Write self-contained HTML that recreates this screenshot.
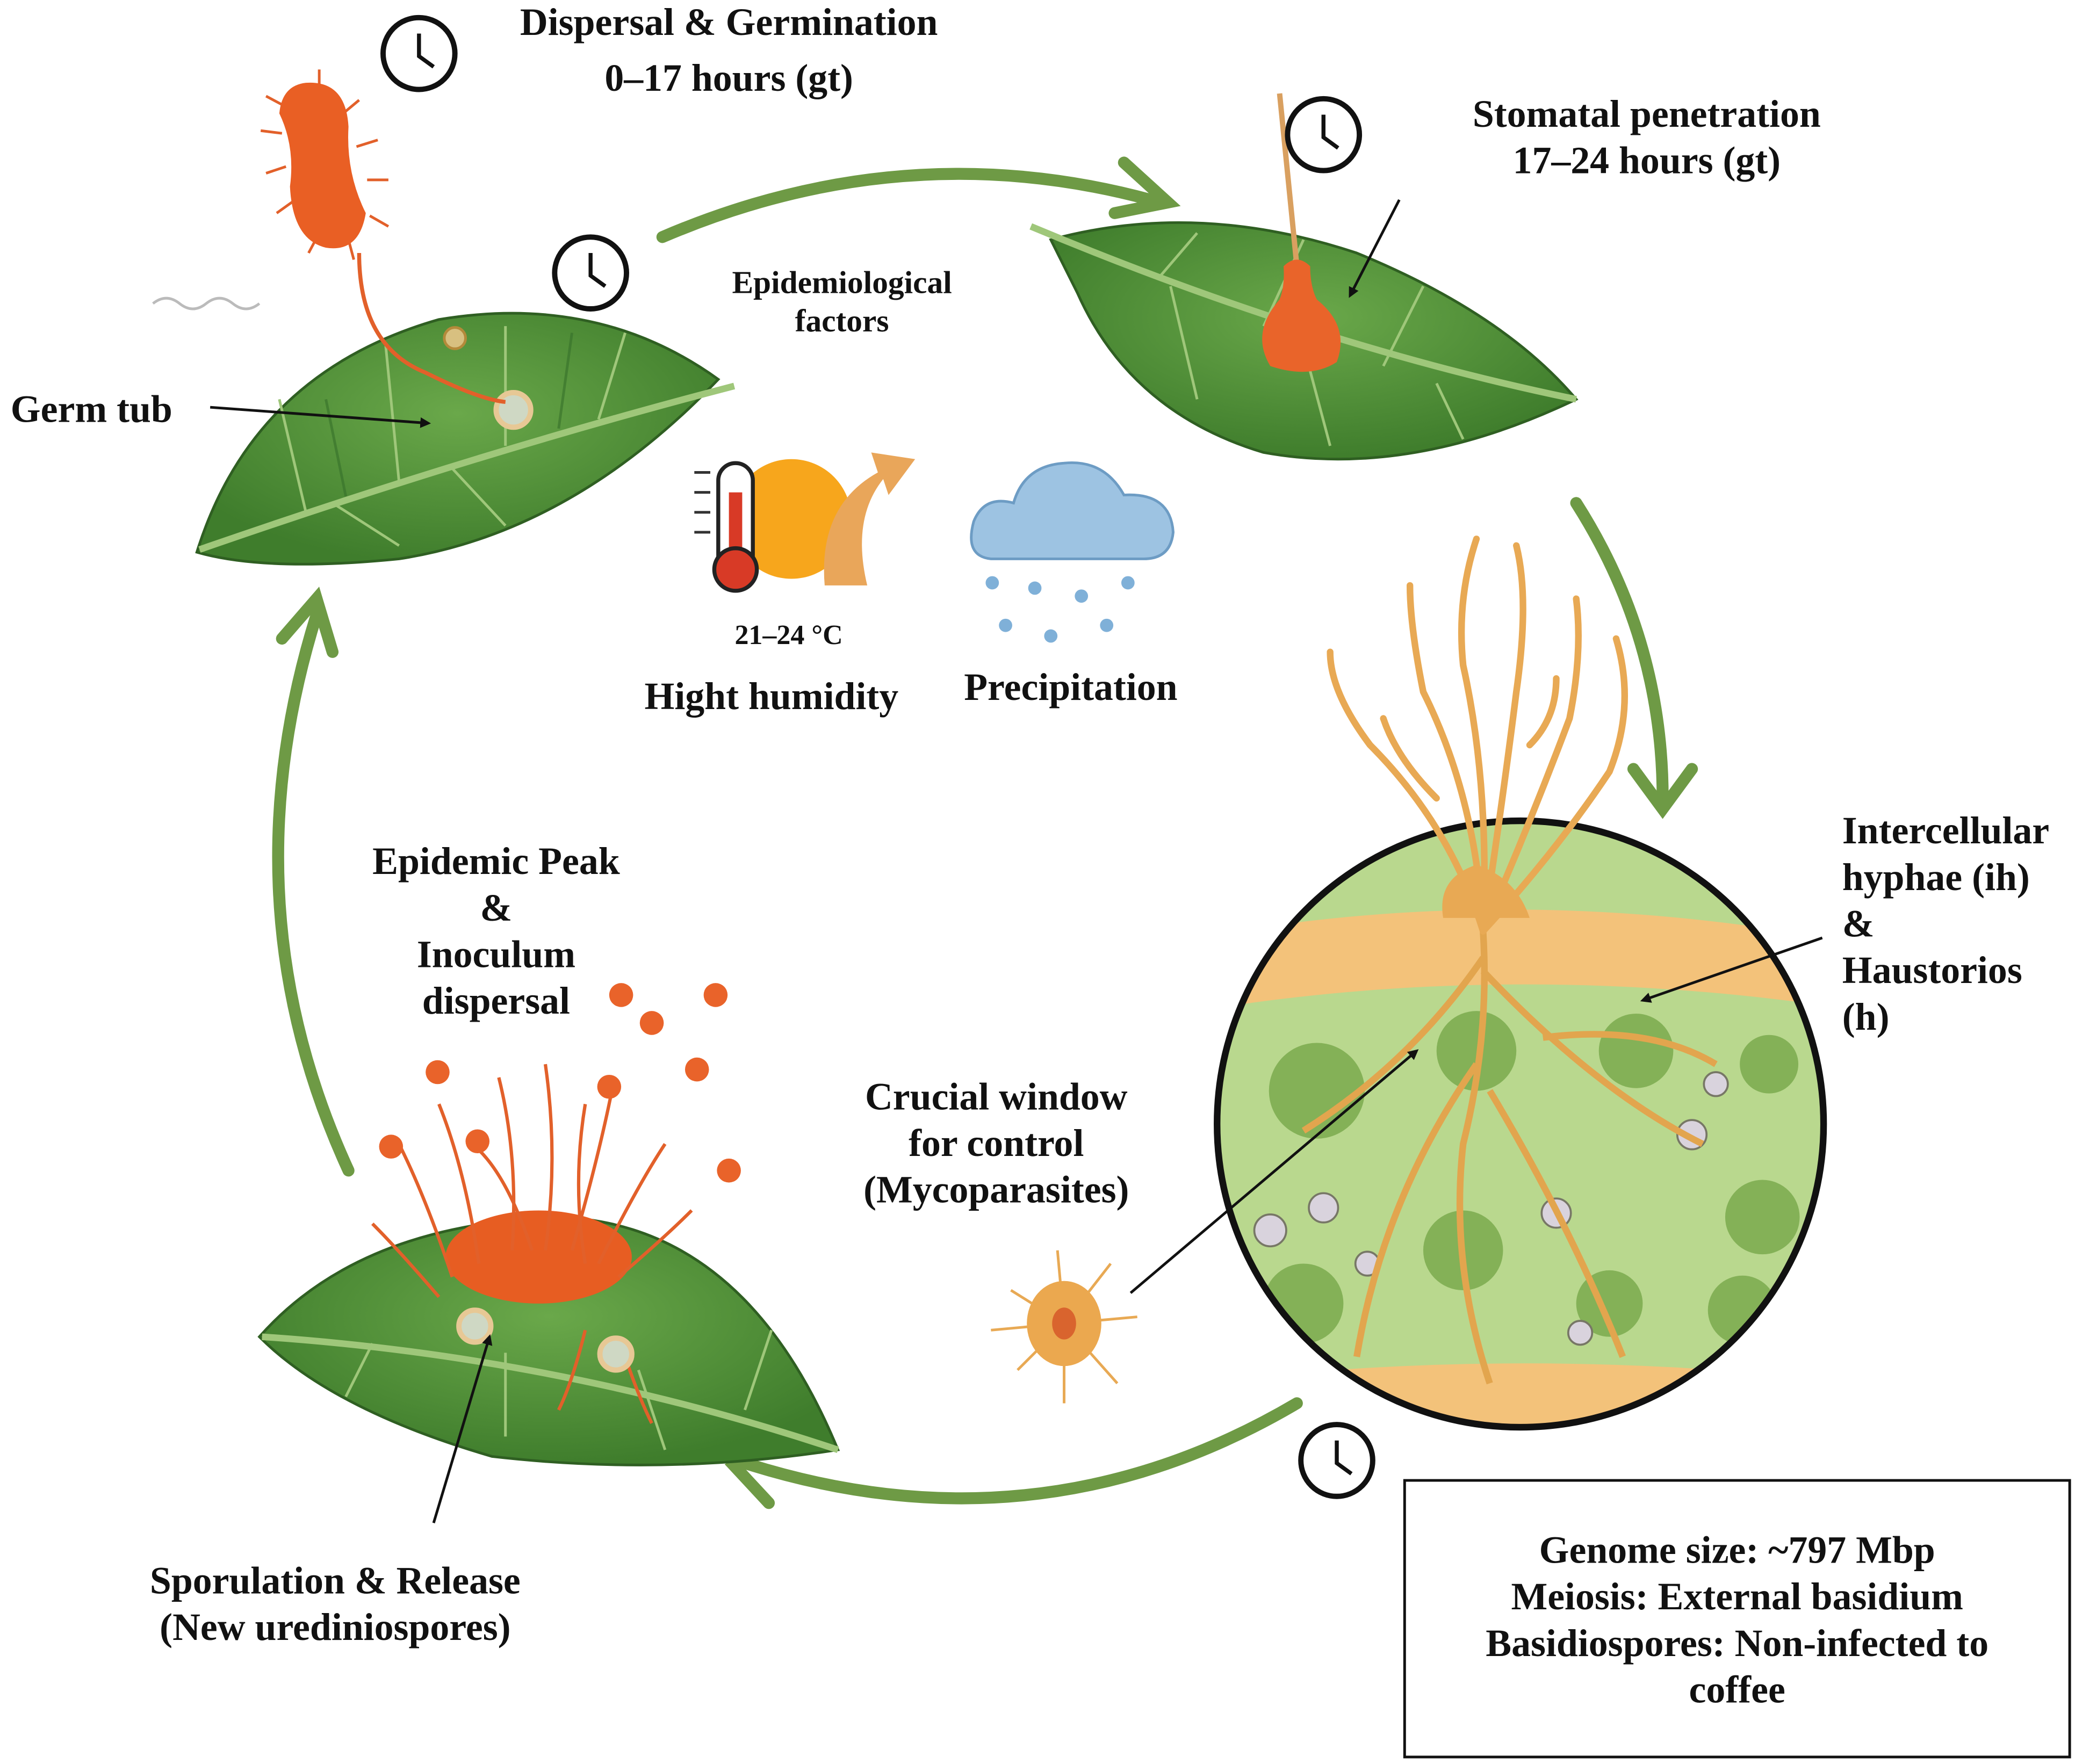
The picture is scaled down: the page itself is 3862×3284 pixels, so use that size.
<!DOCTYPE html>
<html><head><meta charset="utf-8"><style>
html,body{margin:0;padding:0;background:#fff;}
svg{display:block}
text{font-family:"Liberation Serif",serif;font-weight:bold;fill:#111;}
</style></head><body>
<svg width="3862" height="3284" viewBox="0 0 1560 1326" xmlns="http://www.w3.org/2000/svg">
<defs>
<marker id="ah" markerWidth="8" markerHeight="8" refX="6" refY="4" orient="auto" markerUnits="userSpaceOnUse"><path d="M0,0 L8,4 L0,8 z" fill="#111"/></marker>
<radialGradient id="leafg" cx="50%" cy="40%" r="60%"><stop offset="0" stop-color="#6aa84a"/><stop offset="1" stop-color="#3f7d2c"/></radialGradient>
<clipPath id="cc"><circle cx="1143" cy="845" r="228"/></clipPath>
</defs>
<rect width="1560" height="1326" fill="#fff"/>

<g fill="none" stroke="#6e9a45" stroke-width="9" stroke-linecap="round">
<path d="M498,178 Q680,100 865,150"/>
<path d="M845,122 L878,152 L838,160"/>
<path d="M1185,378 Q1250,480 1250,600"/>
<path d="M1228,578 L1250,608 L1272,578"/>
<path d="M975,1055 Q780,1170 560,1100"/>
<path d="M588,1082 L552,1102 L578,1130"/>
<path d="M262,880 Q170,680 238,462"/>
<path d="M212,480 L238,450 L250,490"/>
</g>

<path d="M148,415 Q190,280 330,240 Q450,220 540,285 Q430,400 300,420 Q200,430 148,415 z" fill="url(#leafg)" stroke="#2f5f22" stroke-width="2"/>
<path d="M150,413 Q360,340 552,290" fill="none" stroke="#9fc77a" stroke-width="5"/>
<g stroke="#9fc77a" stroke-width="2" fill="none"><path d="M230,385 L210,300"/><path d="M300,362 L290,260"/><path d="M380,335 L380,245"/><path d="M450,315 L470,250"/><path d="M250,378 L300,410"/><path d="M340,352 L380,395"/></g>
<g stroke="#35702a" stroke-width="2" fill="none" opacity="0.6"><path d="M260,373 L245,300"/><path d="M420,322 L430,250"/></g>
<circle cx="386" cy="308" r="13" fill="#cfd8c4" stroke="#e7c895" stroke-width="4"/>
<circle cx="342" cy="254" r="8" fill="#d8c080" stroke="#b48a3a" stroke-width="2"/>
<path d="M270,190 Q270,260 320,280 Q360,300 380,302" fill="none" stroke="#e2602a" stroke-width="3"/>
<g stroke="#e2602a" stroke-width="2"><path d="M215,80 L200,72 M212,100 L196,98 M215,125 L200,130 M222,150 L208,160 M240,175 L232,190 M262,180 L266,195 M278,162 L292,170 M276,135 L292,135 M268,110 L284,105 M258,85 L270,75 M240,65 L240,52"/></g>
<path d="M230,62 Q260,60 262,95 Q260,130 275,160 Q270,190 245,186 Q220,180 218,140 Q222,110 210,85 Q212,64 230,62 z" fill="#e95f24"/>
<path d="M115,228 q10,-8 20,0 t20,0 t20,0 t20,0" fill="none" stroke="#bbb" stroke-width="2"/>

<path d="M790,180 Q900,150 1020,190 Q1130,235 1185,300 Q1060,360 950,340 Q850,310 810,220 z" fill="url(#leafg)" stroke="#2f5f22" stroke-width="2"/>
<path d="M775,170 Q990,260 1185,300" fill="none" stroke="#9fc77a" stroke-width="5"/>
<g stroke="#9fc77a" stroke-width="2" fill="none"><path d="M870,210 L900,175"/><path d="M950,245 L980,180"/><path d="M1040,275 L1070,215"/><path d="M880,215 L900,300"/><path d="M980,260 L1000,335"/><path d="M1080,288 L1100,330"/></g>
<path d="M962,70 L975,200" stroke="#d9a060" stroke-width="4"/>
<path d="M965,200 Q975,190 985,200 Q985,215 990,225 Q1015,245 1005,272 Q985,285 955,275 Q940,250 962,225 Q966,215 965,200 z" fill="#e9642a"/>
<path d="M1052,150 L1015,222" stroke="#111" stroke-width="2" marker-end="url(#ah)"/>

<g fill="#fff" stroke="#111" stroke-width="4">
<circle cx="315" cy="40" r="27"/><circle cx="444" cy="205" r="27"/><circle cx="995" cy="101" r="27"/><circle cx="1005" cy="1098" r="27"/>
</g>
<g stroke="#111" stroke-width="3" fill="none">
<path d="M315,25 L315,42 L326,50"/><path d="M444,190 L444,207 L455,215"/><path d="M995,86 L995,103 L1006,111"/><path d="M1005,1083 L1005,1100 L1016,1108"/>
</g>

<circle cx="595" cy="390" r="45" fill="#f7a61c"/>
<path d="M620,440 Q615,380 660,355 L655,340 L688,345 L668,372 L664,360 Q640,390 652,440 z" fill="#e9a65a"/>
<rect x="540" y="348" width="26" height="85" rx="13" fill="#fff" stroke="#222" stroke-width="3"/>
<rect x="548" y="370" width="10" height="55" fill="#d83a26"/>
<circle cx="553" cy="428" r="16" fill="#d83a26" stroke="#222" stroke-width="3"/>
<g stroke="#333" stroke-width="2"><path d="M522,355 L534,355 M522,370 L534,370 M522,385 L534,385 M522,400 L534,400"/></g>
<path d="M745,420 Q725,418 732,392 Q740,372 762,378 Q770,350 800,348 Q830,345 845,372 Q880,370 882,400 Q880,420 860,420 z" fill="#9dc3e2" stroke="#6d9cc4" stroke-width="2"/>
<g fill="#7fb0d8"><circle cx="746" cy="438" r="5"/><circle cx="778" cy="442" r="5"/><circle cx="813" cy="448" r="5"/><circle cx="848" cy="438" r="5"/><circle cx="756" cy="470" r="5"/><circle cx="790" cy="478" r="5"/><circle cx="832" cy="470" r="5"/></g>

<g clip-path="url(#cc)">
<rect x="900" y="600" width="500" height="500" fill="#b9d88e"/>
<path d="M900,705 Q1143,660 1400,710 L1400,760 Q1143,720 900,760 z" fill="#f3c27a"/>
<path d="M900,1040 Q1143,1010 1400,1040 L1400,1100 L900,1100 z" fill="#f3c27a"/>
<g fill="#77a84a" opacity="0.8"><circle cx="990" cy="820" r="36"/><circle cx="1110" cy="790" r="30"/><circle cx="1230" cy="790" r="28"/><circle cx="1330" cy="800" r="22"/><circle cx="1100" cy="940" r="30"/><circle cx="1325" cy="915" r="28"/><circle cx="980" cy="980" r="30"/><circle cx="1210" cy="980" r="25"/><circle cx="1310" cy="985" r="26"/></g>
<g fill="#d9d3dd" stroke="#776" stroke-width="1.5"><circle cx="995" cy="908" r="11"/><circle cx="955" cy="925" r="12"/><circle cx="1170" cy="912" r="11"/><circle cx="1272" cy="853" r="11"/><circle cx="1290" cy="815" r="9"/><circle cx="1028" cy="950" r="9"/><circle cx="1188" cy="1002" r="9"/></g>
<g fill="none" stroke="#e2a54e" stroke-width="5"><path d="M1115,700 Q1120,780 1100,860 Q1090,950 1120,1040"/><path d="M1115,720 Q1060,800 980,850"/><path d="M1115,730 Q1200,820 1280,860"/><path d="M1110,800 Q1040,900 1020,1020"/><path d="M1120,820 Q1180,920 1220,1020"/><path d="M1160,780 Q1240,770 1290,800"/></g>
</g>
<circle cx="1143" cy="845" r="228" fill="none" stroke="#111" stroke-width="5"/>
<g fill="none" stroke="#e8a954" stroke-width="5" stroke-linecap="round">
<path d="M1115,700 Q1090,620 1030,560 Q1000,520 1000,490"/>
<path d="M1115,700 Q1110,600 1070,520 Q1060,470 1060,440"/>
<path d="M1115,700 Q1120,590 1100,500 Q1095,450 1110,405"/>
<path d="M1115,700 Q1130,600 1140,520 Q1150,450 1140,410"/>
<path d="M1115,700 Q1150,620 1180,540 Q1190,490 1185,450"/>
<path d="M1115,700 Q1170,640 1210,580 Q1230,530 1215,480"/>
<path d="M1080,600 Q1050,570 1040,540"/><path d="M1150,560 Q1170,540 1170,510"/>
</g>
<path d="M1085,690 Q1080,660 1110,650 Q1140,660 1150,690 z" fill="#e8a954"/>
<path d="M1370,705 L1235,752" stroke="#111" stroke-width="2" marker-end="url(#ah)"/>
<path d="M850,972 L1065,790" stroke="#111" stroke-width="2" marker-end="url(#ah)"/>

<g stroke="#e8a954" stroke-width="2" fill="none"><path d="M800,995 L760,970 M800,995 L745,1000 M800,995 L765,1030 M800,995 L800,1055 M800,995 L840,1040 M800,995 L855,990 M800,995 L835,950 M800,995 L795,940"/></g>
<ellipse cx="800" cy="995" rx="28" ry="32" fill="#eba84f"/>
<ellipse cx="800" cy="995" rx="9" ry="12" fill="#d9642e"/>

<path d="M195,1005 Q270,920 420,915 Q560,920 630,1090 Q500,1110 370,1095 Q250,1060 195,1005 z" fill="url(#leafg)" stroke="#2f5f22" stroke-width="2"/>
<path d="M197,1005 Q420,1020 630,1090" fill="none" stroke="#9fc77a" stroke-width="5"/>
<g stroke="#9fc77a" stroke-width="2" fill="none"><path d="M280,1010 L260,1050"/><path d="M380,1017 L380,1080"/><path d="M480,1030 L500,1090"/><path d="M560,1060 L580,1000"/></g>
<ellipse cx="405" cy="945" rx="70" ry="35" fill="#e75d22"/>
<g fill="none" stroke="#e2602a" stroke-width="2.5">
<path d="M340,960 Q320,900 300,860"/><path d="M360,950 Q350,880 330,830"/><path d="M385,940 Q390,870 375,810"/><path d="M410,940 Q420,870 410,800"/><path d="M430,940 Q450,870 460,820"/><path d="M450,950 Q480,890 500,860"/><path d="M465,960 Q500,930 520,910"/><path d="M330,975 Q300,940 280,920"/><path d="M400,940 Q380,880 355,860"/><path d="M440,950 Q430,890 440,830"/>
<path d="M470,1020 Q480,1050 490,1070"/><path d="M440,1000 Q430,1040 420,1060"/>
</g>
<circle cx="357" cy="997" r="12" fill="#cfd8c4" stroke="#e7c895" stroke-width="4"/>
<circle cx="463" cy="1018" r="12" fill="#cfd8c4" stroke="#e7c895" stroke-width="4"/>
<g fill="#e9632a"><circle cx="467" cy="748" r="9"/><circle cx="538" cy="748" r="9"/><circle cx="490" cy="769" r="9"/><circle cx="329" cy="806" r="9"/><circle cx="524" cy="804" r="9"/><circle cx="458" cy="817" r="9"/><circle cx="294" cy="862" r="9"/><circle cx="359" cy="858" r="9"/><circle cx="548" cy="880" r="9"/></g>
<path d="M326,1145 L368,1005" stroke="#111" stroke-width="2" marker-end="url(#ah)"/>
<path d="M158,306 L322,318" stroke="#111" stroke-width="2" marker-end="url(#ah)"/>

<rect x="1056" y="1113" width="500" height="208" fill="#fff" stroke="#111" stroke-width="2"/>

<g font-size="29">
<text x="548" y="26" text-anchor="middle">Dispersal &amp; Germination</text>
<text x="548" y="68" text-anchor="middle">0–17 hours (gt)</text>
<text x="1238" y="95" text-anchor="middle">Stomatal penetration</text>
<text x="1238" y="130" text-anchor="middle">17–24 hours (gt)</text>
<text x="8" y="317">Germ tub</text>
<text x="580" y="533" text-anchor="middle">Hight humidity</text>
<text x="805" y="526" text-anchor="middle">Precipitation</text>
<text x="373" y="657" text-anchor="middle">Epidemic Peak</text>
<text x="373" y="692" text-anchor="middle">&amp;</text>
<text x="373" y="727" text-anchor="middle">Inoculum</text>
<text x="373" y="762" text-anchor="middle">dispersal</text>
<text x="749" y="834" text-anchor="middle">Crucial window</text>
<text x="749" y="869" text-anchor="middle">for control</text>
<text x="749" y="904" text-anchor="middle">(Mycoparasites)</text>
<text x="1385" y="634">Intercellular</text>
<text x="1385" y="669">hyphae (ih)</text>
<text x="1385" y="704">&amp;</text>
<text x="1385" y="739">Haustorios</text>
<text x="1385" y="774">(h)</text>
<text x="252" y="1198" text-anchor="middle">Sporulation &amp; Release</text>
<text x="252" y="1233" text-anchor="middle">(New urediniospores)</text>
<text x="1306" y="1175" text-anchor="middle">Genome size: ~797 Mbp</text>
<text x="1306" y="1210" text-anchor="middle">Meiosis: External basidium</text>
<text x="1306" y="1245" text-anchor="middle">Basidiospores: Non-infected to</text>
<text x="1306" y="1280" text-anchor="middle">coffee</text>
</g>
<g font-size="24">
<text x="633" y="220" text-anchor="middle">Epidemiological</text>
<text x="633" y="249" text-anchor="middle">factors</text>
</g>
<text x="593" y="484" font-size="21" text-anchor="middle">21–24 °C</text>
</svg>
</body></html>
